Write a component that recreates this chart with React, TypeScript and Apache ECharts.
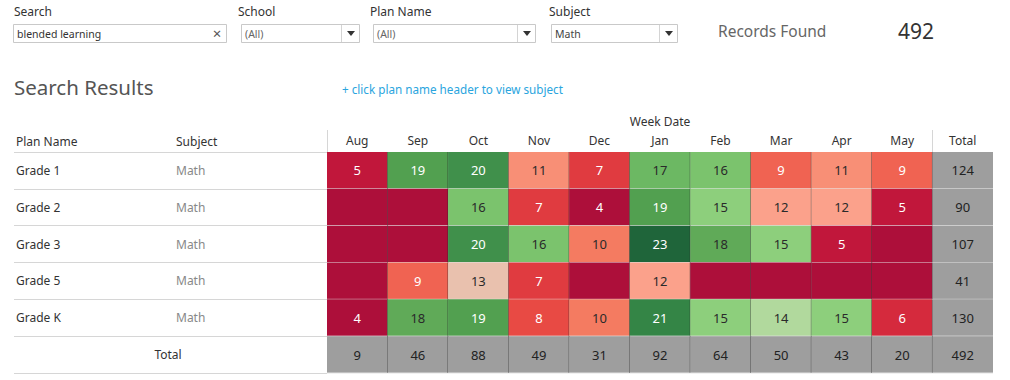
import React, { useEffect, useRef } from 'react';
import * as echarts from 'echarts';

const months = ['Aug', 'Sep', 'Oct', 'Nov', 'Dec', 'Jan', 'Feb', 'Mar', 'Apr', 'May'];
const totalLabel = 'Total';
const plans = ['Grade 1', 'Grade 2', 'Grade 3', 'Grade 5', 'Grade K'];
const subjects = ['Math', 'Math', 'Math', 'Math', 'Math'];
const grade1 = [5, 19, 20, 11, 7, 17, 16, 9, 11, 9];
const grade2 = [null, null, 16, 7, 4, 19, 15, 12, 12, 5];
const grade3 = [null, null, 20, 16, 10, 23, 18, 15, 5, null];
const grade5 = [null, 9, 13, 7, null, 12, null, null, null, null];
const gradeK = [4, 18, 19, 8, 10, 21, 15, 14, 15, 6];
const rowTotals = [124, 90, 107, 41, 130];
const monthTotals = [9, 46, 88, 49, 31, 92, 64, 50, 43, 20];
const grandTotal = 492;
const recordsFound = 492;

// colour for values 4..23 (red-green diverging)
const scaleMin = 4;
const scaleColors = [
  '#ad0f3a', '#c1173b', '#d52a3d', '#e03b40', '#e84a44', '#f06352', '#f47b61', '#f88f76',
  '#fba18b', '#e9c1ae', '#b1d99d', '#8dcf7c', '#7bc36d', '#6cb863', '#60aa58', '#52a050',
  '#40904b', '#348546', '#2a7640', '#1f653a',
];
const blankColor = '#ad0f3a';
const totalColor = '#9e9e9e';
const FONT = '"Noto Sans", "DejaVu Sans", sans-serif';

function colorFor(v: number | null) {
  if (v == null) return blankColor;
  const i = Math.max(0, Math.min(scaleColors.length - 1, Math.round(v - scaleMin)));
  return scaleColors[i];
}
function textColorFor(v: number) {
  return v <= 9 || v >= 19 ? '#ffffff' : '#2a2a2a';
}

export default function App() {
  const ref = useRef<HTMLDivElement>(null);
  useEffect(() => {
    if (!ref.current) return;
    const chart = echarts.init(ref.current, undefined, { renderer: 'svg' });
    const rows = [grade1, grade2, grade3, grade5, gradeK];
    const cellData: any[] = [];
    rows.forEach((row, r) => row.forEach((v, c) => cellData.push([c, r, v])));
    const totalData: any[] = [];
    rowTotals.forEach((v, r) => totalData.push([months.length, r, v]));
    monthTotals.forEach((v, c) => totalData.push([c, plans.length, v]));
    totalData.push([months.length, plans.length, grandTotal]);

    const render = (gray: boolean) => (params: any, api: any) => {
      const xi = api.value(0);
      const yi = api.value(1);
      const raw = api.value(2);
      const v = raw == null || raw === '' || isNaN(raw) ? null : Number(raw);
      const [cx, cy] = api.coord([xi, yi]);
      const [w, h] = api.size([1, 1]);
      const x0 = cx - w / 2;
      const y0 = cy - h / 2;
      const children: any[] = [
        { type: 'rect', shape: { x: x0, y: y0, width: w, height: h }, style: { fill: gray ? totalColor : colorFor(v) } },
        { type: 'line', shape: { x1: x0, y1: y0 + h, x2: x0 + w, y2: y0 + h }, style: { stroke: '#e3e3e3', lineWidth: 1 } },
      ];
      if (xi < months.length) {
        children.push({ type: 'line', shape: { x1: x0 + w, y1: y0, x2: x0 + w, y2: y0 + h }, style: { stroke: 'rgba(40,40,40,0.7)', lineWidth: 1 } });
      }
      if (v != null) {
        children.push({
          type: 'text',
          style: {
            text: String(v), x: cx, y: cy, align: 'center', verticalAlign: 'middle',
            textAlign: 'center', textVerticalAlign: 'middle',
            fill: gray ? '#222' : textColorFor(v), fontSize: 13, fontFamily: FONT,
          },
        });
      }
      return { type: 'group', children };
    };

    const box = (x: number, w: number, text: string, drop: boolean, textColor: string) => {
      const els: any[] = [
        { type: 'rect', shape: { x: x + 0.5, y: 24.5, width: w, height: 18 }, style: { fill: '#fff', stroke: '#c9c9c9', lineWidth: 1 } },
        { type: 'text', style: { text, x: x + 4, y: 34, textVerticalAlign: 'middle', verticalAlign: 'middle', fill: textColor, fontSize: 10.5, fontFamily: FONT } },
      ];
      if (drop) {
        els.push({ type: 'line', shape: { x1: x + w - 17.5, y1: 25, x2: x + w - 17.5, y2: 42 }, style: { stroke: '#d4d4d4', lineWidth: 1 } });
        els.push({ type: 'polygon', shape: { points: [[x + w - 12, 31], [x + w - 4, 31], [x + w - 8, 36]] }, style: { fill: '#333' } });
      } else {
        els.push({ type: 'text', style: { text: '×', x: x + w - 9, y: 33, textAlign: 'center', align: 'center', textVerticalAlign: 'middle', verticalAlign: 'middle', fill: '#555', fontSize: 15, fontFamily: FONT } });
      }
      return els;
    };
    const label = (text: string, x: number, y: number, size = 12, color = '#333', extra: any = {}) => ({
      type: 'text', style: { text, x, y, textVerticalAlign: 'middle', verticalAlign: 'middle', fill: color, fontSize: size, fontFamily: FONT, ...extra },
    });

    chart.setOption({
      animation: false,
      backgroundColor: '#ffffff',
      textStyle: { fontFamily: FONT },
      grid: { left: 327, right: 17, top: 152, bottom: 7, containLabel: false },
      xAxis: {
        type: 'category',
        position: 'top',
        data: [...months, totalLabel],
        name: 'Week Date',
        nameLocation: 'middle',
        nameGap: 31,
        nameTextStyle: { color: '#333', fontSize: 12, fontFamily: FONT, verticalAlign: 'middle' },
        axisLine: { show: false },
        axisTick: { show: false },
        splitLine: { show: false },
        axisLabel: { color: '#333', fontSize: 12, margin: 6, fontFamily: FONT },
      },
      yAxis: {
        type: 'category',
        inverse: true,
        data: [...plans, totalLabel],
        axisLine: { show: false },
        axisTick: { show: true, length: 313, lineStyle: { color: '#d6d6d6', width: 1 } },
        splitLine: { show: false },
        axisLabel: {
          margin: 0,
          formatter: (val: string, idx: number) => (idx >= plans.length ? `{t|${val}}` : `{a|${val}}{b|${subjects[idx]}}`),
          rich: {
            a: { width: 160, align: 'left', color: '#333', fontSize: 12, fontFamily: FONT },
            b: { width: 151, align: 'left', color: '#888', fontSize: 12, fontFamily: FONT },
            t: { width: 304, align: 'center', padding: [0, 7, 0, 0], color: '#333', fontSize: 12, fontFamily: FONT },
          },
        },
      },
      graphic: [
        label('Search', 14, 11),
        label('School', 238, 11),
        label('Plan Name', 370, 11),
        label('Subject', 549, 11),
        ...box(13, 213, 'blended learning', false, '#333'),
        ...box(241, 118, '(All)', true, '#666'),
        ...box(373, 162, '(All)', true, '#666'),
        ...box(551, 126, 'Math', true, '#444'),
        label('Records Found', 718, 31, 15.5, '#666'),
        label(String(recordsFound), 898, 31, 21, '#333'),
        label('Search Results', 14, 87, 20.5, '#555'),
        label('+ click plan name header to view subject', 342, 89, 11.7, '#2aa5de'),
        label('Plan Name', 16, 141),
        label('Subject', 176, 141),
        { type: 'line', shape: { x1: 327.5, y1: 130, x2: 327.5, y2: 152 }, style: { stroke: '#d6d6d6', lineWidth: 1 } },
        { type: 'line', shape: { x1: 932.5, y1: 130, x2: 932.5, y2: 152 }, style: { stroke: '#d6d6d6', lineWidth: 1 } },
      ],
      series: [
        { type: 'custom', renderItem: render(false), data: cellData, encode: { x: 0, y: 1 }, z: 3 },
        { type: 'custom', renderItem: render(true), data: totalData, encode: { x: 0, y: 1 }, z: 3 },
      ],
    });
    return () => chart.dispose();
  }, []);
  return <div ref={ref} style={{ position: 'fixed', left: 0, top: 0, width: 1010, height: 380, background: '#fff' }} />;
}
